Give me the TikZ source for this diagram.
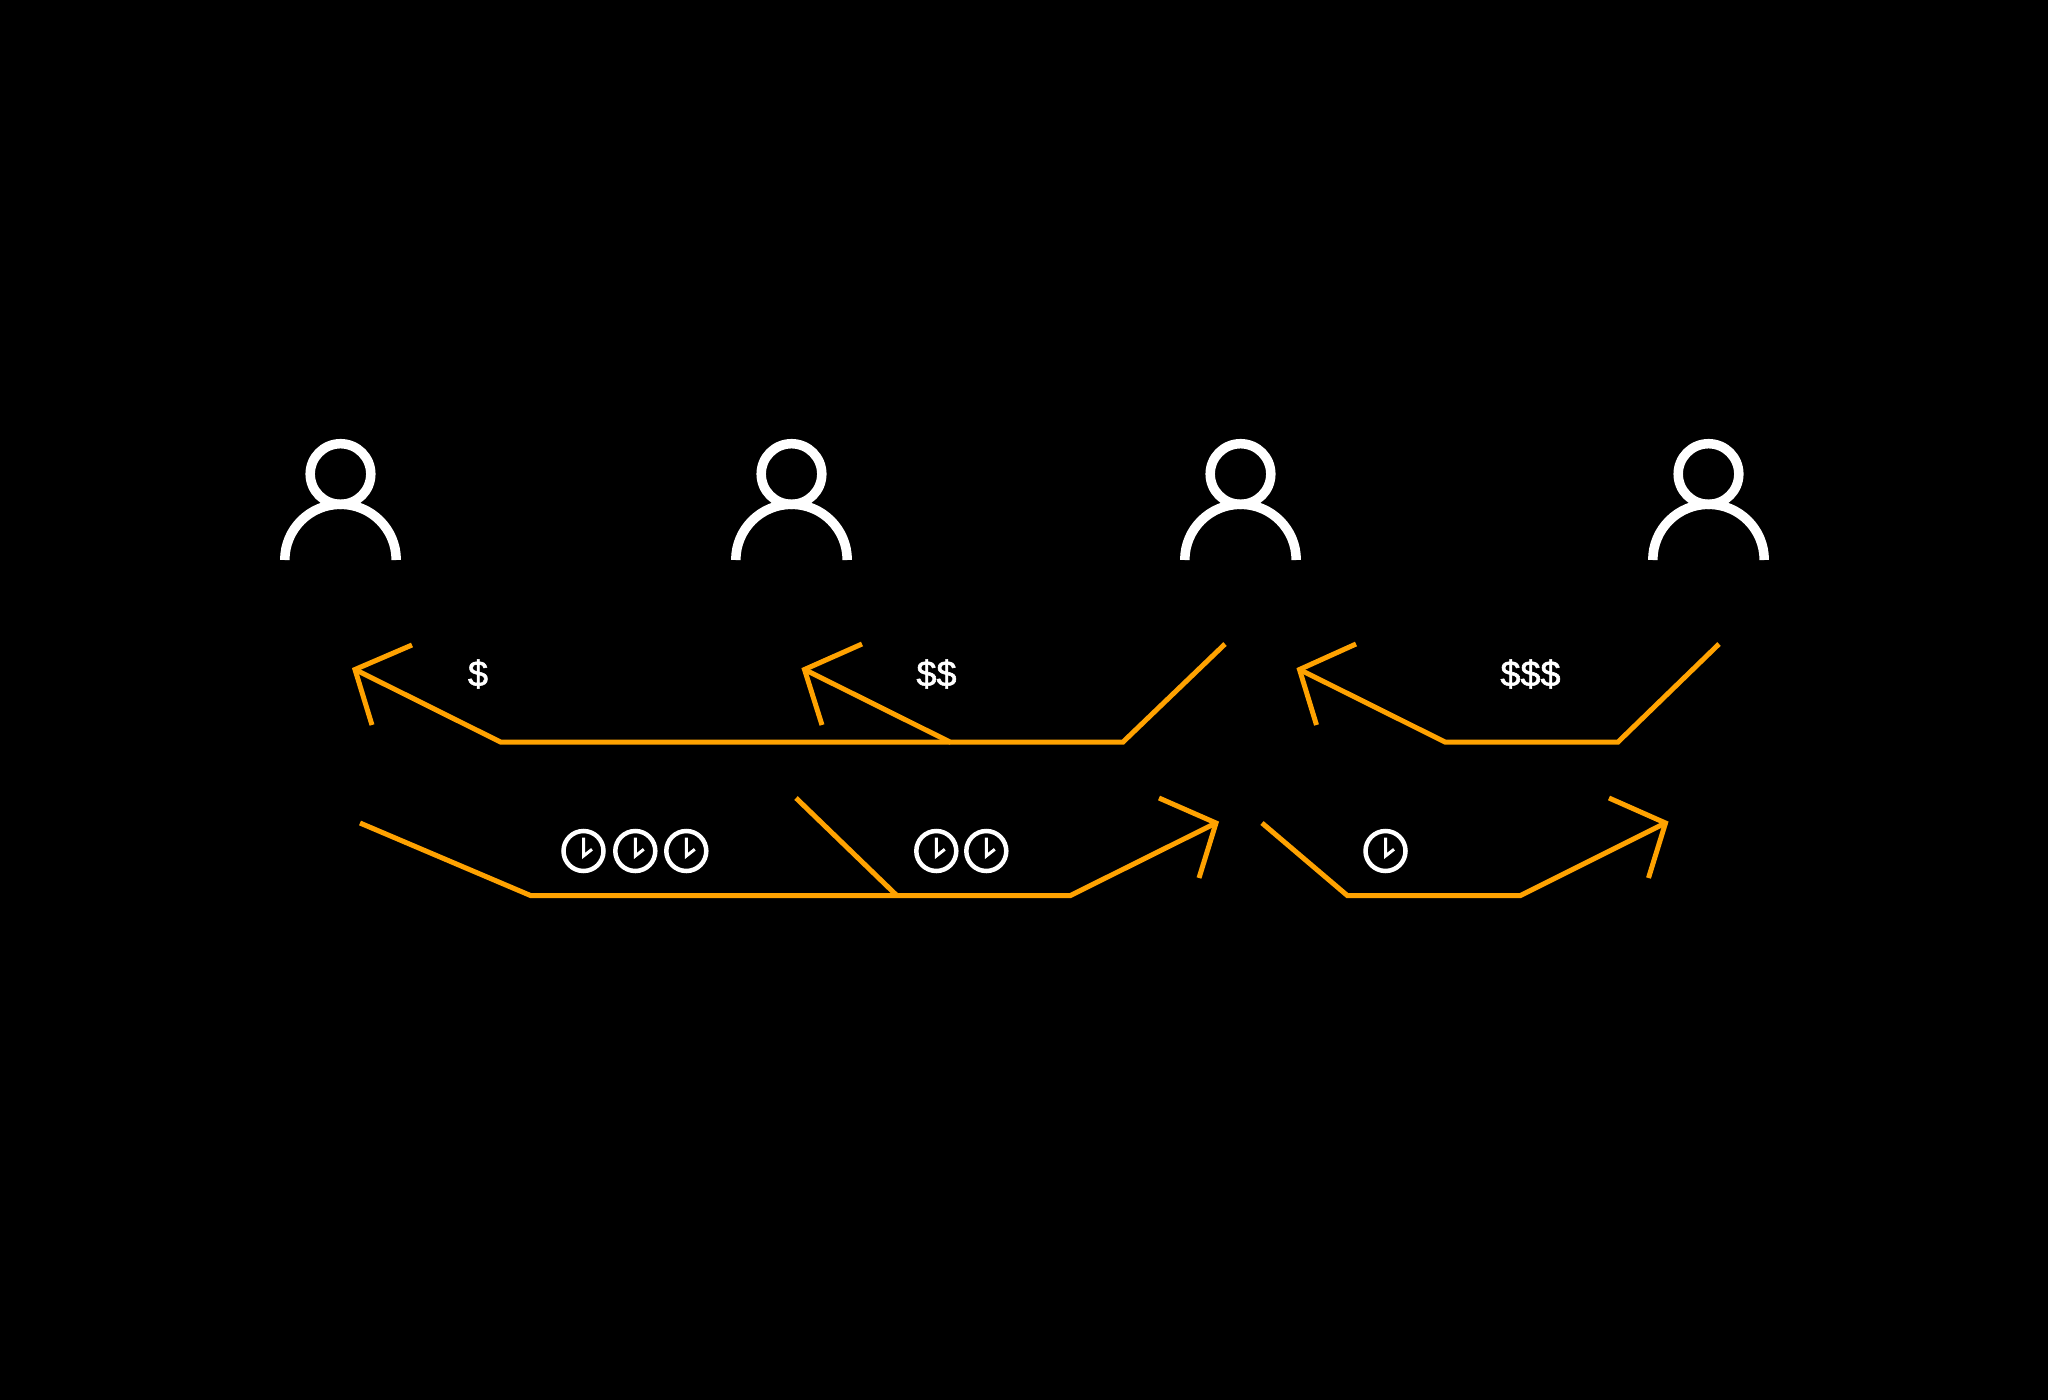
\documentclass[tikz,border=0pt]{standalone}
\usepackage{fontspec}
\setmainfont[FakeBold=1.6]{Liberation Sans}
\definecolor{flow}{HTML}{FFA200}
\tikzset{
  flowline/.style={draw=flow,line width=5pt,line join=miter,line cap=butt},
  personline/.style={draw=white,line width=9.5pt},
  clockline/.style={draw=white,line width=4.5pt},
  handline/.style={draw=white,line width=3pt},
  money/.style={text=white,inner sep=0pt,font=\fontsize{36}{36}\selectfont}
}
\newcommand{\personicon}[2]{%
  \draw[personline] (#1,#2-86) circle[radius=30.3];
  \draw[personline] (#1-55.7,#2) arc[start angle=180,end angle=360,radius=55.7];
}
\newcommand{\clockicon}[2]{%
  \draw[clockline] (#1,#2) circle[radius=20];
  \draw[handline] (#1,#2-13.5) -- (#1,#2+5) -- (#1+8.5,#2-1.7);
}
\begin{document}
\begin{tikzpicture}[x=1pt,y=-1pt]
\useasboundingbox (0,0) rectangle (2048,1400);
\fill[black] (0,0) rectangle (2048,1400);
% persons
\personicon{340.5}{560}
\personicon{791.5}{560}
\personicon{1240.5}{560}
\personicon{1708.5}{560}
% named points
\coordinate (tipA) at (355,669.5);
\coordinate (barbA1) at (412,645);
\coordinate (barbA2) at (372,725);
\coordinate (kneeA) at (500.5,742);
\coordinate (joinA) at (950,742);
\coordinate (tipB) at (804.5,669.5);
\coordinate (barbB1) at (862,644);
\coordinate (barbB2) at (822,725);
\coordinate (kneeB) at (1123,742);
\coordinate (startB) at (1225,644);
\coordinate (tipC) at (1299.5,669.5);
\coordinate (barbC1) at (1356,644);
\coordinate (barbC2) at (1316.5,725);
\coordinate (kneeC1) at (1445,742);
\coordinate (kneeC2) at (1618,742);
\coordinate (startC) at (1719,644);
\coordinate (startD) at (360,823);
\coordinate (kneeD1) at (531,895.7);
\coordinate (kneeD2) at (1070,895.7);
\coordinate (tipD) at (1216,823);
\coordinate (barbD1) at (1159,798);
\coordinate (barbD2) at (1199,878);
\coordinate (startE) at (796,798);
\coordinate (joinE) at (897,895.7);
\coordinate (startF) at (1262,823);
\coordinate (kneeF1) at (1347.5,895.7);
\coordinate (kneeF2) at (1520,895.7);
\coordinate (tipF) at (1665.5,823);
\coordinate (barbF1) at (1609,798);
\coordinate (barbF2) at (1648.5,878);
% upper flows
\draw[flowline] (joinA) -- (kneeA) -- (tipA);
\draw[flowline] (barbA1) -- (tipA) -- (barbA2);
\draw[flowline] (startB) -- (kneeB) -- (joinA) -- (tipB);
\draw[flowline] (barbB1) -- (tipB) -- (barbB2);
\draw[flowline] (startC) -- (kneeC2) -- (kneeC1) -- (tipC);
\draw[flowline] (barbC1) -- (tipC) -- (barbC2);
% lower flows
\draw[flowline] (startD) -- (kneeD1) -- (kneeD2) -- (tipD);
\draw[flowline] (barbD1) -- (tipD) -- (barbD2);
\draw[flowline] (startE) -- (joinE);
\draw[flowline] (startF) -- (kneeF1) -- (kneeF2) -- (tipF);
\draw[flowline] (barbF1) -- (tipF) -- (barbF2);
% labels
\node[money] (m1) at (478,674) {\$};
\node[money] (m2) at (936.5,674) {\$\$};
\node[money] (m3) at (1530.5,674) {\$\$\$};
% clocks
\clockicon{583.5}{851}
\clockicon{635.3}{851}
\clockicon{686.3}{851}
\clockicon{936.3}{851}
\clockicon{986.3}{851}
\clockicon{1385.5}{851}
\end{tikzpicture}
\end{document}
